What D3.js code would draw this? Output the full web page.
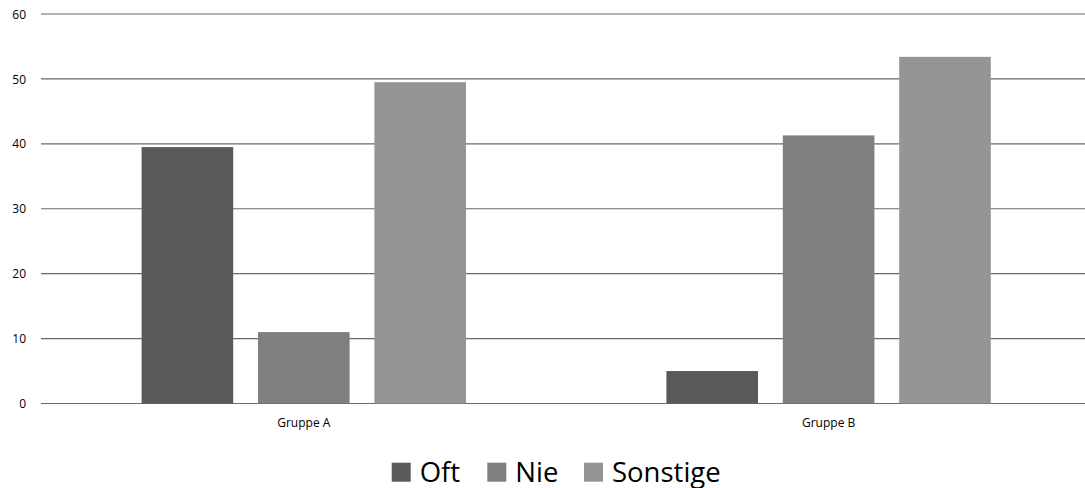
<!DOCTYPE html>
<html><head><meta charset="utf-8">
<script src="https://cdn.jsdelivr.net/npm/d3@7"></script>
<style>body{margin:0;background:#fff}svg{display:block}</style>
</head><body>
<svg id="c" width="1085" height="488"></svg>
<script>
const categories = ["Gruppe A", "Gruppe B"];
const seriesNames = ["Oft", "Nie", "Sonstige"];
const oft = [39.5, 5];
const nie = [11, 41.3];
const sonstige = [49.5, 53.4];
const yTicks = [0, 10, 20, 30, 40, 50, 60];
const colors = ["#595959", "#7f7f7f", "#959595"];

const values = [oft, nie, sonstige];
const svg = d3.select("#c");
const font = "'Open Sans', sans-serif";
const x0 = d3.scaleBand().domain(categories).range([41.4, 1091]).paddingInner(0).paddingOuter(0);
const x1 = d3.scaleBand().domain(seriesNames).range([-162.2, 162.2]).paddingInner(0.213).paddingOuter(0);
const y = d3.scaleLinear().domain([0, 60]).range([403.5, 14]);

const g = svg.append("g");
g.selectAll("line.grid").data(yTicks).join("line")
  .attr("x1", 41).attr("x2", 1085)
  .attr("y1", d => y(d)).attr("y2", d => y(d))
  .attr("stroke", "#6a6a6a").attr("stroke-width", 1.2);

const yAxis = d3.axisLeft(y).tickValues(yTicks).tickSize(0).tickPadding(0);
const ya = svg.append("g").attr("transform", "translate(26,0)").call(yAxis);
ya.select(".domain").remove();
ya.selectAll("text").attr("font-family", font).attr("font-size", 12).attr("fill", "#000").attr("dy", "0.34em");

categories.forEach((c, ci) => {
  const cx = x0(c) + x0.bandwidth() / 2;
  seriesNames.forEach((s, si) => {
    const v = values[si][ci];
    svg.append("rect")
      .attr("x", cx + x1(s)).attr("width", x1.bandwidth())
      .attr("y", y(v)).attr("height", y(0) - y(v))
      .attr("fill", colors[si]);
  });
});

const xAxis = d3.axisBottom(x0).tickSize(0).tickPadding(0);
const xa = svg.append("g").attr("transform", "translate(0,417)").call(xAxis);
xa.select(".domain").remove();
xa.selectAll("text").attr("font-family", font).attr("font-size", 12).attr("fill", "#000").attr("dy", "0.8em");

const legX = [391.7, 487.3, 584];
const leg = svg.append("g");
seriesNames.forEach((s, i) => {
  leg.append("rect").attr("x", legX[i]).attr("y", 462.7).attr("width", 19).attr("height", 19).attr("fill", colors[i]);
  leg.append("text").attr("x", legX[i] + 28).attr("y", 481.5).text(s)
    .attr("font-family", font).attr("font-size", 27.5).attr("fill", "#000");
});
</script>
</body></html>
